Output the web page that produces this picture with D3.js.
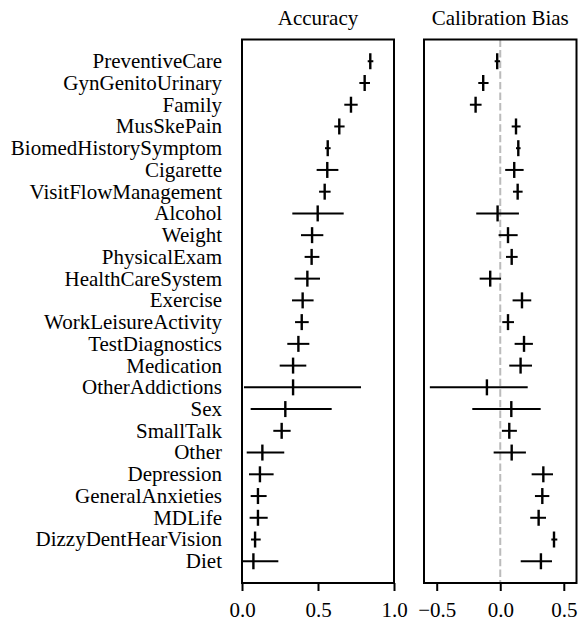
<html>
<head>
  <meta charset="utf-8">
  <script src="https://d3js.org/d3.v7.min.js"></script>
  <style>
    body { margin: 0; background: white; }
  </style>
  <script>
    var categories = ["PreventiveCare", "GynGenitoUrinary", "Family", "MusSkePain", "BiomedHistorySymptom",
        "Cigarette", "VisitFlowManagement", "Alcohol", "Weight", "PhysicalExam", "HealthCareSystem",
        "Exercise", "WorkLeisureActivity", "TestDiagnostics", "Medication", "OtherAddictions", "Sex",
        "SmallTalk", "Other", "Depression", "GeneralAnxieties", "MDLife", "DizzyDentHearVision", "Diet"];

    var accMean = [0.844, 0.807, 0.717, 0.640, 0.564, 0.561, 0.544, 0.498, 0.461, 0.458, 0.430, 0.399,
        0.393, 0.371, 0.336, 0.336, 0.285, 0.261, 0.134, 0.118, 0.105, 0.105, 0.086, 0.075];
    var accLo = [0.827, 0.772, 0.673, 0.607, 0.546, 0.491, 0.507, 0.331, 0.388, 0.412, 0.346, 0.329,
        0.349, 0.298, 0.248, 0.013, 0.057, 0.206, 0.031, 0.046, 0.057, 0.050, 0.059, 0.000];
    var accHi = [0.864, 0.842, 0.761, 0.675, 0.583, 0.634, 0.583, 0.669, 0.535, 0.509, 0.513, 0.471,
        0.439, 0.443, 0.423, 0.783, 0.590, 0.320, 0.278, 0.208, 0.162, 0.169, 0.123, 0.239];

    var biasMean = [-0.024, -0.134, -0.194, 0.124, 0.142, 0.110, 0.137, -0.021, 0.061, 0.090, -0.079, 0.171,
        0.061, 0.187, 0.160, -0.105, 0.087, 0.071, 0.090, 0.339, 0.331, 0.302, 0.423, 0.320];
    var biasLo = [-0.044, -0.173, -0.239, 0.090, 0.124, 0.039, 0.100, -0.189, -0.013, 0.045, -0.162, 0.097,
        0.016, 0.113, 0.071, -0.554, -0.220, 0.013, -0.052, 0.247, 0.273, 0.236, 0.402, 0.161];
    var biasHi = [-0.002, -0.092, -0.147, 0.160, 0.160, 0.184, 0.176, 0.147, 0.137, 0.137, 0.006, 0.244,
        0.108, 0.257, 0.250, 0.216, 0.318, 0.131, 0.202, 0.415, 0.386, 0.360, 0.449, 0.407];

    var accTicks = [0, 0.5, 1.0];
    var biasTicks = [-0.5, 0, 0.5];

    var FONT = "'Liberation Serif', 'Times New Roman', Times, 'DejaVu Serif', serif";

    function makeChart() {
        var svg = d3.select("#chart");
        var top = 39.5, bottom = 583;
        var y = d3.scaleLinear().domain([-1, 24]).range([top, bottom]);

        // category labels
        svg.selectAll("text.cat").data(categories).enter()
            .append("text").attr("class", "cat")
            .attr("font-family", FONT).attr("font-size", 21)
            .attr("text-anchor", "end").attr("x", 222)
            .attr("y", (d, i) => y(i)).attr("dy", "0.33em")
            .text(d => d);

        function panel(x, mean, lo, hi, ticks, title, zeroLine) {
            var g = svg.append("g");
            if (zeroLine) {
                g.append("line")
                    .attr("x1", x(0)).attr("x2", x(0)).attr("y1", top).attr("y2", bottom)
                    .attr("stroke", "#bbbbbb").attr("stroke-width", 2).attr("stroke-dasharray", "7.4,3.2");
            }
            var rows = g.selectAll("g.row").data(mean).enter().append("g");
            rows.append("line")
                .attr("x1", (d, i) => x(lo[i])).attr("x2", (d, i) => x(hi[i]))
                .attr("y1", (d, i) => y(i)).attr("y2", (d, i) => y(i))
                .attr("stroke", "black").attr("stroke-width", 2);
            rows.append("line")
                .attr("x1", d => x(d)).attr("x2", d => x(d))
                .attr("y1", (d, i) => y(i) - 8).attr("y2", (d, i) => y(i) + 8)
                .attr("stroke", "black").attr("stroke-width", 2.4);

            var r = x.range();
            g.append("rect")
                .attr("x", r[0]).attr("y", top).attr("width", r[1] - r[0]).attr("height", bottom - top)
                .attr("fill", "none").attr("stroke", "black").attr("stroke-width", 2);

            var ax = g.append("g").attr("transform", "translate(0," + bottom + ")")
                .call(d3.axisBottom(x).tickValues(ticks).tickSize(8).tickPadding(11)
                    .tickFormat(d => d3.format(".1f")(d).replace("-", "\u2212")));
            ax.attr("font-family", FONT).attr("font-size", 21);
            ax.select(".domain").remove();
            ax.selectAll("line").attr("stroke-width", 2);
            ax.selectAll("text").attr("fill", "black");

            svg.append("text").attr("text-anchor", "middle")
                .attr("font-family", FONT).attr("font-size", 21)
                .attr("x", (r[0] + r[1]) / 2).attr("y", 25).text(title);
        }

        panel(d3.scaleLinear().domain([0, 1]).range([242, 394]), accMean, accLo, accHi, accTicks, "Accuracy", false);
        panel(d3.scaleLinear().domain([-0.6, 0.6]).range([424, 576.5]), biasMean, biasLo, biasHi, biasTicks, "Calibration Bias", true);
    }
  </script>
</head>
<body onload="makeChart()">
  <svg id="chart" width="579" height="624"></svg>
</body>
</html>
